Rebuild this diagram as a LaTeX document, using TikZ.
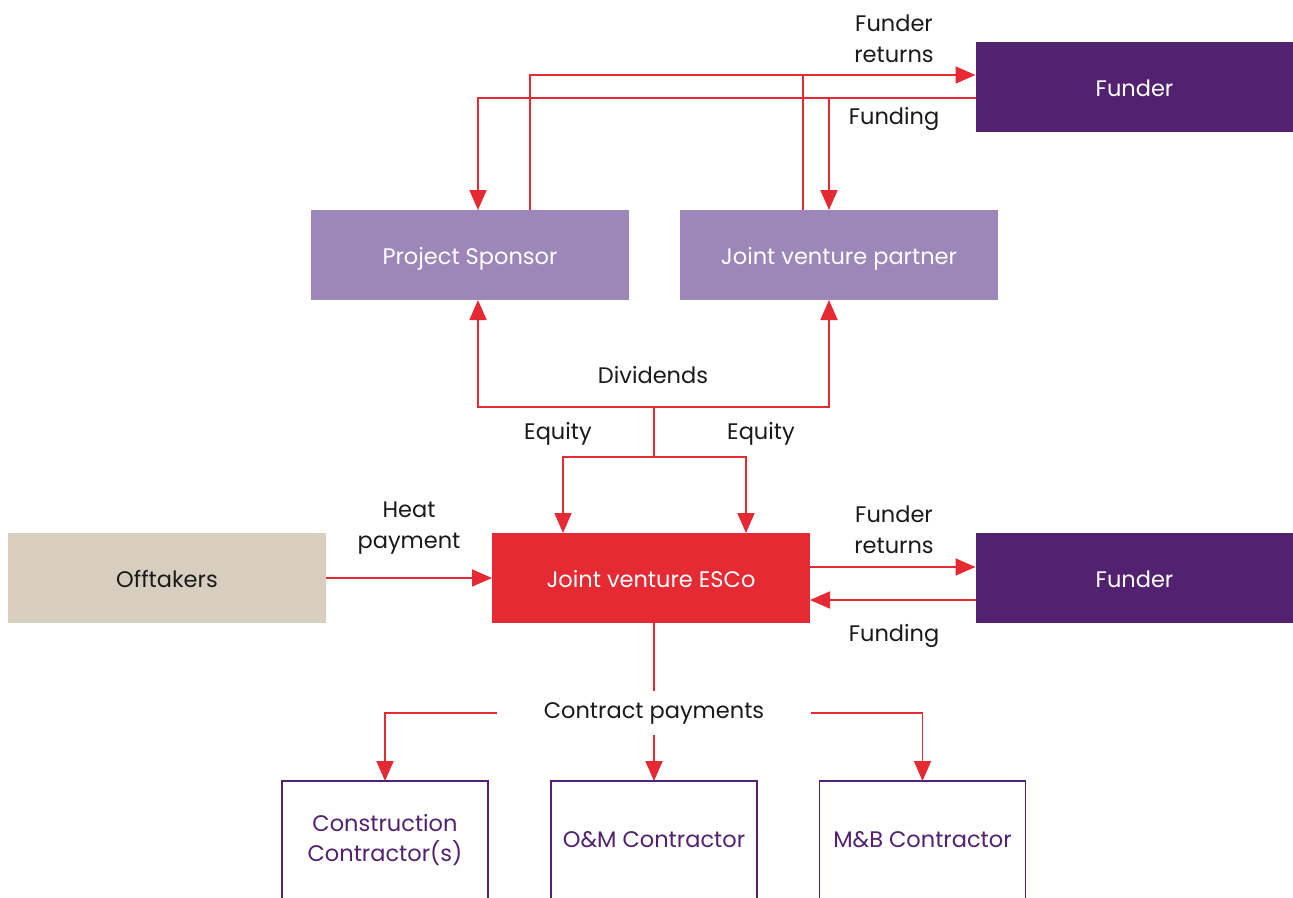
\documentclass[tikz,border=0pt]{standalone}
\usepackage{fontspec}
\setmainfont{Poppins}
\usetikzlibrary{arrows.meta}
\definecolor{cred}{HTML}{E52A33}
\definecolor{cdark}{HTML}{52216F}
\definecolor{clight}{HTML}{9D86B8}
\definecolor{cbeige}{HTML}{D8CEC0}
\definecolor{ctext}{HTML}{1A1A1A}
\tikzset{
  box/.style={minimum width=318pt,minimum height=90pt,inner sep=0pt,outer sep=0pt,text height=19pt,text depth=0pt,font=\fontsize{22.5}{27}\selectfont},
  cbox/.style={draw=cdark,line width=1.5pt,minimum width=206pt,minimum height=118pt,inner sep=0pt,outer sep=0pt,text=cdark,align=center,font=\fontsize{22.5}{30}\selectfont},
  lbl/.style={text=ctext,align=center,inner sep=0pt,font=\fontsize{22.5}{31}\selectfont},
  link/.style={draw=cred,line width=1.8pt},
  arr/.style={link,-{Triangle[length=20pt,width=17pt]}}
}
\begin{document}
\begin{tikzpicture}[x=1pt,y=-1pt]
\clip (0,0) rectangle (1293,897);
\fill[white] (0,0) rectangle (1293,897);
% nodes
\node[box,fill=cdark,text=white] (ft) at (1134.5,87) {Funder};
\node[box,fill=clight,text=white] (ps) at (470,255) {Project Sponsor};
\node[box,fill=clight,text=white] (jp) at (839,255) {Joint venture partner};
\node[box,fill=cbeige,text=ctext] (off) at (167,578) {Offtakers};
\node[box,fill=cred,text=white] (esco) at (651,578) {Joint venture ESCo};
\node[box,fill=cdark,text=white] (fb) at (1134.5,578) {Funder};
\node[cbox,anchor=north] (cc) at (385,781) {Construction\\Contractor(s)};
\node[cbox,anchor=north] (om) at (654,781) {O\&M Contractor};
\node[cbox,anchor=north] (mb) at (922.5,781) {M\&B Contractor};
% helper coordinates
\coordinate (cA) at (530,75);
\coordinate (cB) at (803,75);
\coordinate (cC) at (478,98);
\coordinate (cD) at (829,98);
\coordinate (m) at (654,407);
\coordinate (e) at (654,457);
\coordinate (eL) at (563,457);
\coordinate (eR) at (746,457);
\coordinate (r1) at (0,567);
\coordinate (r2) at (0,600);
% top connectors
\draw[arr] (ps.north -| cA) |- (ft.west |- cA);
\draw[link] (jp.north -| cB) -- (cB);
\draw[arr] (ft.west |- cC) -| (ps.north -| cC);
\draw[arr] (cD) -- (jp.north -| cD);
% dividends / equity
\draw[arr] (m) -| (ps.south -| cC);
\draw[arr] (m) -| (jp.south -| cD);
\draw[link] (m) -- (e);
\draw[arr] (e) -| (esco.north -| eL);
\draw[arr] (e) -| (esco.north -| eR);
% side
\draw[arr] (off.east) -- (esco.west);
\draw[arr] (esco.east |- r1) -- (fb.west |- r1);
\draw[arr] (fb.west |- r2) -- (esco.east |- r2);
% contract payments
\node[lbl,inner xsep=47pt,inner ysep=11pt] (cp) at (654,713) {Contract payments};
\draw[link] (esco.south -| cp) -- (cp.north);
\draw[arr] (cp.south) -- (om.north);
\draw[arr] (cp.west) -| (cc.north);
\draw[arr] (cp.east) -| (mb.north);
% labels
\node[lbl] (l1) at (894,39) {Funder\\returns};
\node[lbl] (l2) at (894,119) {Funding};
\node[lbl] (l3) at (653,375) {Dividends};
\node[lbl] (l4) at (558,434) {Equity};
\node[lbl] (l5) at (761,434) {Equity};
\node[lbl] (l6) at (409,528) {Heat\\payment};
\node[lbl] (l7) at (894,530) {Funder\\returns};
\node[lbl] (l8) at (894,636) {Funding};
\end{tikzpicture}
\end{document}
